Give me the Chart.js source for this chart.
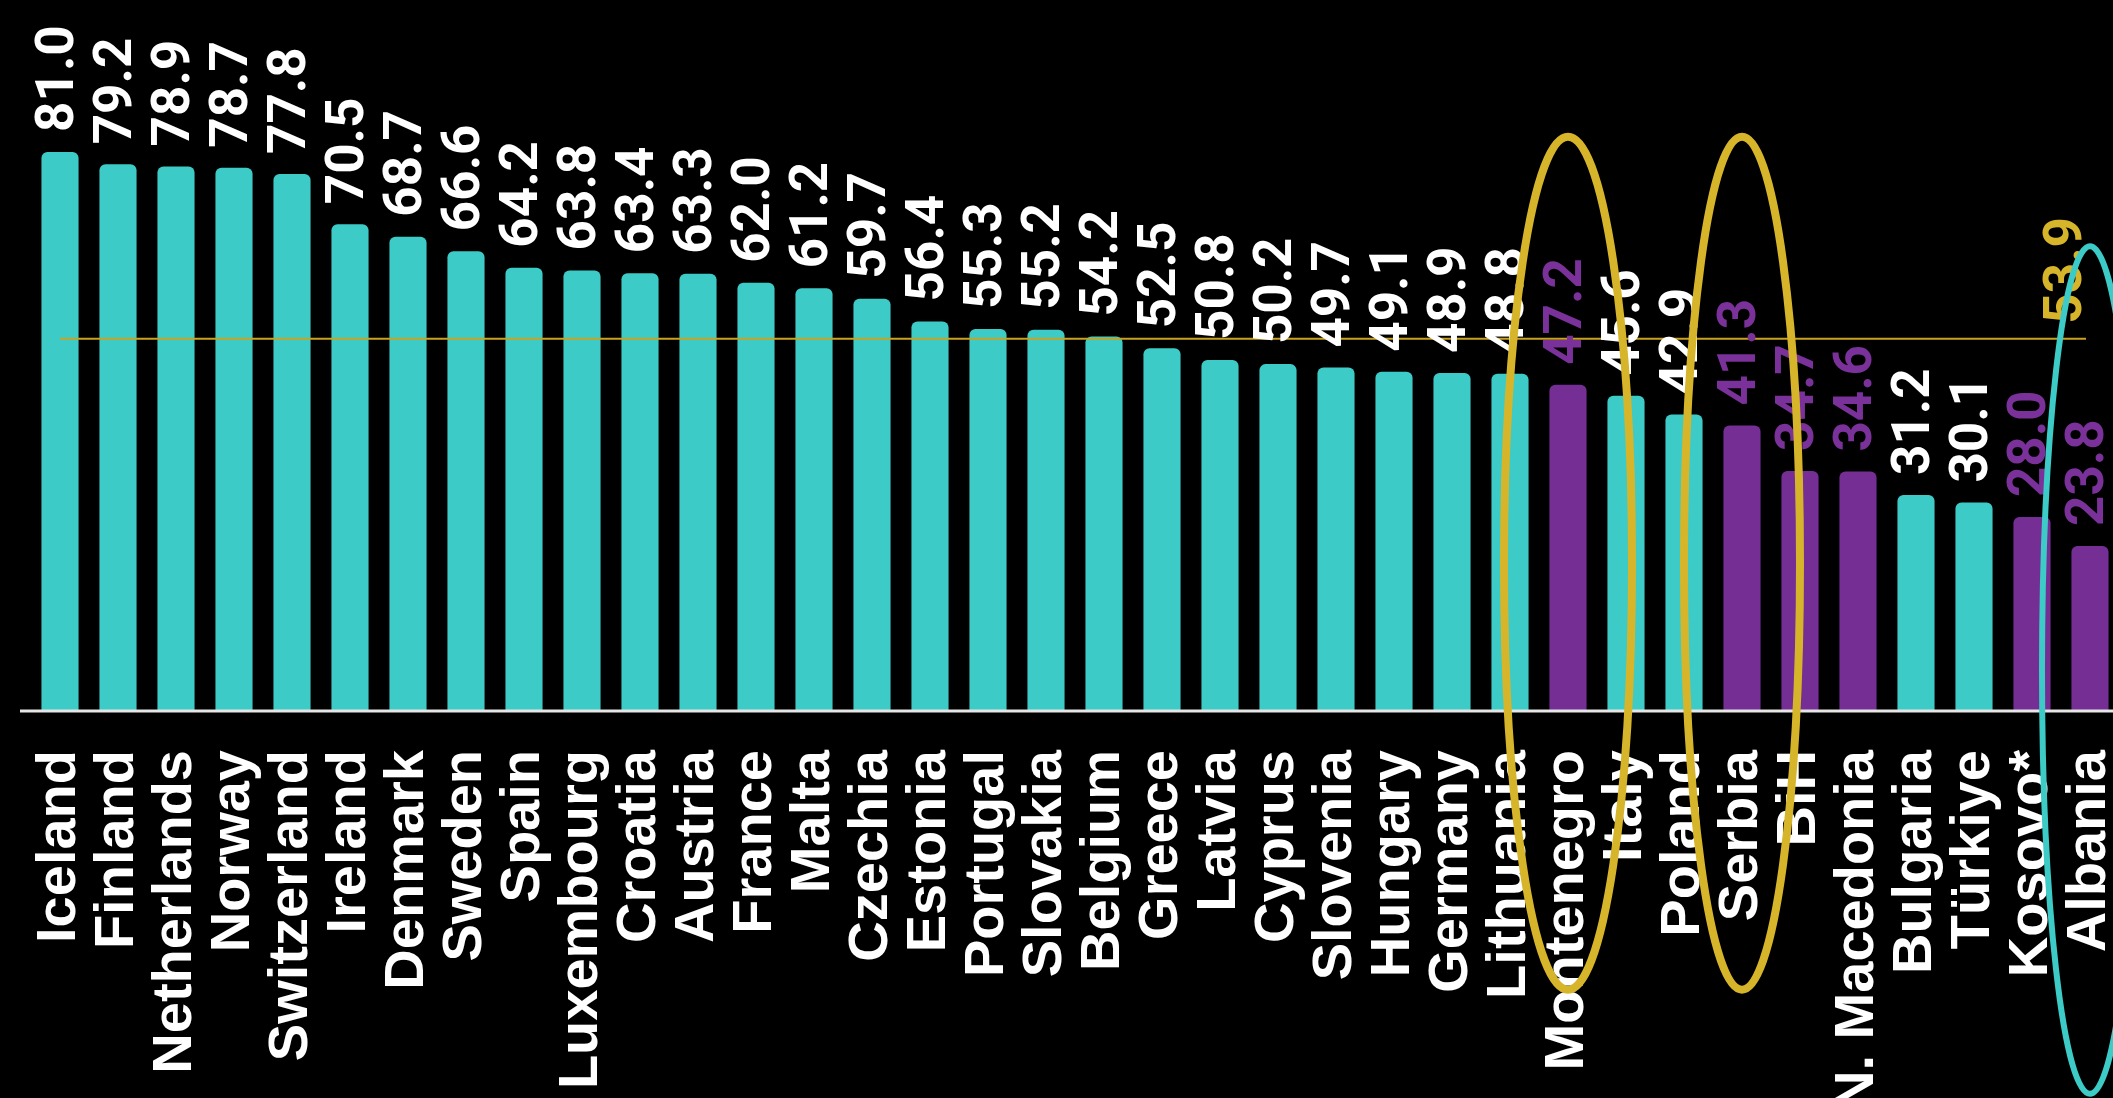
<!DOCTYPE html>
<html>
<head>
<meta charset="utf-8">
<script src="https://cdn.jsdelivr.net/npm/chart.js@4.4.1/dist/chart.umd.min.js"></script>
<style>
  html, body { margin: 0; padding: 0; background: #000; overflow: hidden; }
  #wrap { width: 2119px; height: 1098px; position: relative; }
</style>
</head>
<body>
<div id="wrap"><canvas id="chart"></canvas></div>
<script>
// Data
const countries = [
  "Iceland", "Finland", "Netherlands", "Norway", "Switzerland", "Ireland",
  "Denmark", "Sweden", "Spain", "Luxembourg", "Croatia", "Austria",
  "France", "Malta", "Czechia", "Estonia", "Portugal", "Slovakia",
  "Belgium", "Greece", "Latvia", "Cyprus", "Slovenia", "Hungary",
  "Germany", "Lithuania", "Montenegro", "Italy", "Poland", "Serbia",
  "BiH", "N. Macedonia", "Bulgaria", "Türkiye", "Kosovo*", "Albania"
];
const values = [
  81.0, 79.2, 78.9, 78.7, 77.8, 70.5,
  68.7, 66.6, 64.2, 63.8, 63.4, 63.3,
  62.0, 61.2, 59.7, 56.4, 55.3, 55.2,
  54.2, 52.5, 50.8, 50.2, 49.7, 49.1,
  48.9, 48.8, 47.2, 45.6, 42.9, 41.3,
  34.7, 34.6, 31.2, 30.1, 28.0, 23.8
];
const westernBalkans = ["Montenegro", "Serbia", "BiH", "N. Macedonia", "Kosovo*", "Albania"];
const average = 53.9;
const circledYellow = ["Montenegro", "Serbia"];
const circledCyan = ["Albania"];

const CYAN = "#3ccbc6";
const PURPLE = "#752e94";
const YELLOW = "#d6b52a";

const barColors = countries.map(c => westernBalkans.includes(c) ? PURPLE : CYAN);
const labelColors = countries.map(c => westernBalkans.includes(c) ? "#7a3199" : "#ffffff");

// value labels, average line, baseline, circles
const extras = {
  id: "extras",
  afterDatasetsDraw(chart) {
    const ctx = chart.ctx;
    const y = chart.scales.y;
    const meta = chart.getDatasetMeta(0);

    // baseline
    ctx.save();
    ctx.strokeStyle = "#e6e6e6";
    ctx.lineWidth = 3;
    ctx.beginPath();
    ctx.moveTo(chart.chartArea.left - 11, y.getPixelForValue(0) + 1);
    ctx.lineTo(chart.width, y.getPixelForValue(0) + 1);
    ctx.stroke();

    // average line
    const ay = y.getPixelForValue(average);
    ctx.strokeStyle = "#c9a21f";
    ctx.lineWidth = 2;
    ctx.beginPath();
    ctx.moveTo(meta.data[0].x, ay);
    ctx.lineTo(meta.data[meta.data.length - 1].x - 4, ay);
    ctx.stroke();

    // value labels
    ctx.font = "bold 53px Roboto";
    ctx.textAlign = "left";
    ctx.textBaseline = "middle";
    meta.data.forEach((bar, i) => {
      ctx.save();
      ctx.translate(bar.x, bar.y - 20);
      ctx.rotate(-Math.PI / 2);
      ctx.fillStyle = labelColors[i];
      ctx.fillText(values[i].toFixed(1), 0, 0);
      ctx.restore();
    });

    // average label
    const last = meta.data[meta.data.length - 1];
    ctx.save();
    ctx.translate(last.x - 22, ay - 15);
    ctx.rotate(-Math.PI / 2);
    ctx.fillStyle = YELLOW;
    ctx.fillText(average.toFixed(1), 0, 0);
    ctx.restore();
    ctx.restore();
  },
  afterDraw(chart) {
    const ctx = chart.ctx;
    const y = chart.scales.y;
    const meta = chart.getDatasetMeta(0);
    const ring = (name, top, bottom, rx, color, lw) => {
      const bar = meta.data[countries.indexOf(name)];
      const t = y.getPixelForValue(top), b = y.getPixelForValue(bottom);
      ctx.save();
      ctx.strokeStyle = color;
      ctx.lineWidth = lw;
      ctx.beginPath();
      ctx.ellipse(bar.x, (t + b) / 2, rx, (b - t) / 2, 0, 0, Math.PI * 2);
      ctx.stroke();
      ctx.restore();
    };
    circledYellow.forEach((c, i) => ring(c, 83.2, -40.6, i === 0 ? 64 : 58, YELLOW, 8));
    circledCyan.forEach(c => ring(c, 67.3, -55.7, 48, CYAN, 6));
  }
};

new Chart(document.getElementById("chart"), {
  type: "bar",
  data: {
    labels: countries,
    datasets: [{
      data: values,
      backgroundColor: barColors,
      borderRadius: 6,
      borderSkipped: "start",
      barPercentage: 0.64,
      categoryPercentage: 1
    }]
  },
  options: {
    responsive: true,
    maintainAspectRatio: false,
    animation: false,
    layout: { padding: { left: 31, top: 21, right: 0, bottom: 0 } },
    plugins: { legend: { display: false }, tooltip: { enabled: false } },
    scales: {
      x: {
        grid: { display: false, drawTicks: false },
        border: { display: false },
        ticks: {
          color: "#ffffff",
          font: { family: "'Liberation Sans', Arial", weight: "bold", size: 56, lineHeight: 1 },
          minRotation: 90,
          maxRotation: 90,
          autoSkip: false,
          padding: 40
        },
        afterFit(axis) {
          axis.height = 388;
          axis.paddingLeft = 0;
          axis.paddingRight = 0;
        }
      },
      y: { display: false, min: 0, max: 100 }
    }
  },
  plugins: [extras]
});
</script>
</body>
</html>
